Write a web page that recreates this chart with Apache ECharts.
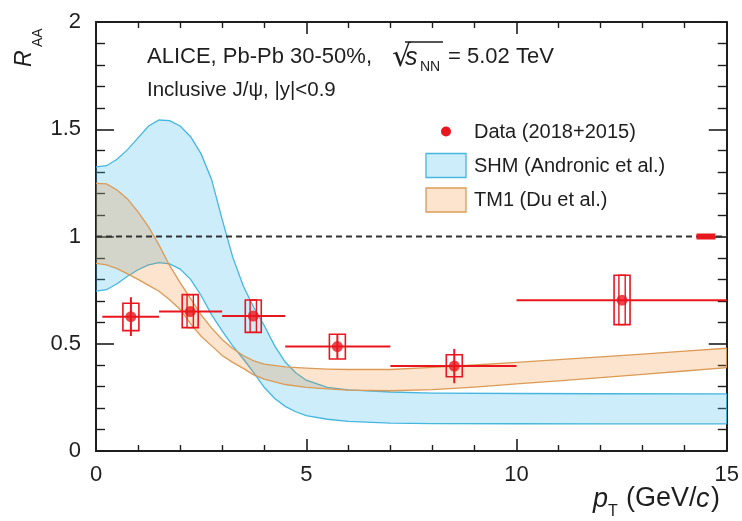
<!DOCTYPE html>
<html>
<head>
<meta charset="utf-8">
<script src="https://cdn.jsdelivr.net/npm/echarts@6/dist/echarts.min.js"></script>
<style>
  html, body { margin: 0; padding: 0; background: #fff; }
  #chart { width: 742px; height: 521px; }
</style>
</head>
<body>
<div id="chart"></div>
<script>
// Inclusive J/psi nuclear modification factor vs pT, Pb-Pb 30-50%, 5.02 TeV

// Measured points
const ptCenter = [0.83, 2.24, 3.74, 5.74, 8.52, 12.51];
const raa      = [0.626, 0.650, 0.629, 0.487, 0.396, 0.703];
const binLo    = [0.15, 1.5, 3.0, 4.5, 7.0, 10.0];
const binHi    = [1.5, 3.0, 4.5, 7.0, 10.0, 15.0];
const statLo   = [0.536, null, null, 0.430, 0.316, null];
const statHi   = [0.717, null, null, 0.545, 0.476, null];
const sysLo    = [0.561, 0.575, 0.553, 0.429, 0.346, 0.589];
const sysHi    = [0.689, 0.729, 0.704, 0.544, 0.449, 0.819];
const corrLo   = [null, 0.575, 0.553, null, null, 0.589];
const corrHi   = [null, 0.729, 0.704, null, null, 0.819];

// Global normalisation uncertainty drawn at unity
const globalPt  = [14.28, 14.73];
const globalRaa = [0.986, 1.014];

// SHM (Andronic et al.) band
const shmPt   = [0, 0.25, 0.5, 0.75, 1.0, 1.25, 1.5, 1.75, 2.0, 2.25, 2.5, 2.75, 3.0, 3.25, 3.5, 3.75, 4.0, 4.25, 4.5, 4.75, 5.0, 5.5, 6.0, 7.0, 8.0, 10.0, 12.0, 15.0];
const shmHigh = [1.325, 1.33, 1.36, 1.405, 1.46, 1.515, 1.543, 1.54, 1.515, 1.465, 1.385, 1.265, 1.08, 0.905, 0.77, 0.67, 0.585, 0.49, 0.415, 0.365, 0.33, 0.297, 0.285, 0.275, 0.27, 0.268, 0.267, 0.266];
const shmLow  = [0.745, 0.752, 0.78, 0.815, 0.845, 0.868, 0.878, 0.872, 0.848, 0.80, 0.725, 0.635, 0.56, 0.49, 0.43, 0.365, 0.297, 0.245, 0.208, 0.183, 0.165, 0.148, 0.138, 0.13, 0.128, 0.127, 0.126, 0.126];

// TM1 (Du et al.) band
const tm1Pt   = [0, 0.25, 0.5, 0.75, 1.0, 1.25, 1.5, 1.75, 2.0, 2.25, 2.5, 2.75, 3.0, 3.25, 3.5, 3.75, 4.0, 4.5, 5.0, 5.5, 6.0, 7.0, 8.0, 9.0, 10.0, 11.0, 12.0, 13.0, 14.0, 15.0];
const tm1High = [1.248, 1.245, 1.217, 1.175, 1.115, 1.045, 0.96, 0.865, 0.785, 0.71, 0.635, 0.573, 0.52, 0.478, 0.445, 0.42, 0.405, 0.392, 0.386, 0.382, 0.38, 0.38, 0.39, 0.401, 0.413, 0.426, 0.439, 0.452, 0.466, 0.479];
const tm1Low  = [0.875, 0.868, 0.85, 0.826, 0.80, 0.772, 0.745, 0.705, 0.66, 0.593, 0.535, 0.49, 0.445, 0.413, 0.385, 0.355, 0.335, 0.31, 0.297, 0.29, 0.284, 0.281, 0.286, 0.298, 0.313, 0.327, 0.342, 0.357, 0.373, 0.389];

// Axis ranges and ticks
const xRange = [0, 15], xStep = 5;
const yRange = [0, 2],  yStep = 0.5;
const unity = 1;

const FONT = '"Liberation Sans", Arial, Helvetica, sans-serif';
const RED = '#e8161e';
const INK = '#1e1e1e';

const chart = echarts.init(document.getElementById('chart'), null, { renderer: 'canvas' });

function band(xs, lo, hi, fill, stroke, z) {
  return {
    type: 'custom',
    coordinateSystem: 'cartesian2d',
    silent: true,
    z: z,
    clip: true,
    data: [[xs[0], lo[0]]],
    renderItem: function (params, api) {
      const up = xs.map((x, i) => api.coord([x, hi[i]]));
      const dn = xs.map((x, i) => api.coord([x, lo[i]]));
      const last = xs.length - 1;
      return {
        type: 'group',
        children: [
          { type: 'polygon', shape: { points: up.concat(dn.slice().reverse()) }, style: { fill: fill, stroke: null } },
          { type: 'polyline', shape: { points: up }, style: { fill: null, stroke: stroke, lineWidth: 1.3 } },
          { type: 'polyline', shape: { points: dn }, style: { fill: null, stroke: stroke, lineWidth: 1.3 } },
          { type: 'line', shape: { x1: up[last][0], y1: up[last][1], x2: dn[last][0], y2: dn[last][1] }, style: { stroke: stroke, lineWidth: 1.3 } }
        ]
      };
    }
  };
}

const boxHalf = 0.19;    // half-width of systematic boxes in pT units
const innerHalf = 0.075;

const pointSeries = {
  type: 'custom',
  coordinateSystem: 'cartesian2d',
  silent: true,
  z: 10,
  data: ptCenter.map((x, i) => [x, raa[i]]),
  renderItem: function (params, api) {
    const i = params.dataIndex;
    const x = ptCenter[i], y = raa[i];
    const kids = [];
    const a = api.coord([binLo[i], y]), b = api.coord([binHi[i], y]);
    kids.push({ type: 'line', shape: { x1: a[0], y1: a[1], x2: b[0], y2: b[1] }, style: { stroke: RED, lineWidth: 2 } });
    if (statLo[i] != null) {
      const s1 = api.coord([x, statLo[i]]), s2 = api.coord([x, statHi[i]]);
      kids.push({ type: 'line', shape: { x1: s1[0], y1: s1[1], x2: s2[0], y2: s2[1] }, style: { stroke: RED, lineWidth: 2 } });
    }
    const p1 = api.coord([x - boxHalf, sysHi[i]]), p2 = api.coord([x + boxHalf, sysLo[i]]);
    kids.push({ type: 'rect', shape: { x: p1[0], y: p1[1], width: p2[0] - p1[0], height: p2[1] - p1[1] }, style: { fill: null, stroke: RED, lineWidth: 1.6 } });
    if (corrLo[i] != null) {
      const q1 = api.coord([x - innerHalf, corrHi[i]]), q2 = api.coord([x + innerHalf, corrLo[i]]);
      kids.push({ type: 'rect', shape: { x: q1[0], y: q1[1], width: q2[0] - q1[0], height: q2[1] - q1[1] }, style: { fill: null, stroke: RED, lineWidth: 1.4 } });
    }
    return { type: 'group', children: kids };
  }
};

const globalSeries = {
  type: 'custom',
  coordinateSystem: 'cartesian2d',
  silent: true,
  z: 9,
  data: [[globalPt[0], globalRaa[0]]],
  renderItem: function (params, api) {
    const p1 = api.coord([globalPt[0], globalRaa[1]]), p2 = api.coord([globalPt[1], globalRaa[0]]);
    return { type: 'rect', shape: { x: p1[0], y: p1[1], width: p2[0] - p1[0], height: p2[1] - p1[1] }, style: { fill: RED } };
  }
};

const axisCommon = {
  type: 'value',
  axisLine: { show: true, onZero: false, lineStyle: { color: INK, width: 2 } },
  splitLine: { show: false },
  minorSplitLine: { show: false }
};

function txt(x, y, text, size, opts) {
  opts = opts || {};
  return {
    type: 'text', x: x, y: y, z: 50, silent: true,
    rotation: opts.rotation || 0,
    style: {
      text: text,
      fill: opts.fill || INK,
      font: (opts.italic ? 'italic ' : '') + size + 'px ' + (opts.family || FONT),
      textAlign: opts.align || 'left',
      textVerticalAlign: 'middle',
      align: opts.align || 'left',
      verticalAlign: 'middle'
    }
  };
}

const option = {
  animation: false,
  backgroundColor: '#fff',
  grid: { left: 96, right: 15, top: 22, bottom: 70 },
  xAxis: [
    Object.assign({}, axisCommon, {
      min: xRange[0], max: xRange[1], interval: xStep, position: 'bottom',
      axisTick: { show: true, inside: true, length: 12, lineStyle: { color: INK, width: 1.6 } },
      minorTick: { show: true, splitNumber: 5, length: 6, lineStyle: { color: INK, width: 1.4 } },
      axisLabel: { show: true, margin: 13, fontSize: 22, color: INK, fontFamily: FONT }
    }),
    Object.assign({}, axisCommon, {
      min: xRange[0], max: xRange[1], interval: xStep, position: 'top',
      axisTick: { show: true, inside: true, length: 12, lineStyle: { color: INK, width: 1.6 } },
      minorTick: { show: true, splitNumber: 5, length: 6, lineStyle: { color: INK, width: 1.4 } },
      axisLabel: { show: false }
    })
  ],
  yAxis: [
    Object.assign({}, axisCommon, {
      min: yRange[0], max: yRange[1], interval: yStep, position: 'left',
      axisTick: { show: true, inside: true, length: 18, lineStyle: { color: INK, width: 1.6 } },
      minorTick: { show: true, splitNumber: 5, length: 9, lineStyle: { color: INK, width: 1.4 } },
      axisLabel: { show: true, margin: 15, fontSize: 22, color: INK, fontFamily: FONT }
    }),
    Object.assign({}, axisCommon, {
      min: yRange[0], max: yRange[1], interval: yStep, position: 'right',
      axisTick: { show: true, inside: true, length: 18, lineStyle: { color: INK, width: 1.6 } },
      minorTick: { show: true, splitNumber: 5, length: 9, lineStyle: { color: INK, width: 1.4 } },
      axisLabel: { show: false }
    })
  ],
  series: [
    band(shmPt, shmLow, shmHigh, 'rgba(72,190,235,0.27)', '#45b6e2', 2),
    band(tm1Pt, tm1Low, tm1High, 'rgba(240,120,10,0.2)', '#dc9a55', 3),
    {
      type: 'line',
      silent: true,
      z: 5,
      symbol: 'none',
      data: [[xRange[0], unity], [xRange[1], unity]],
      lineStyle: { color: '#333', width: 1.8, type: [6, 4] }
    },
    globalSeries,
    pointSeries,
    {
      type: 'scatter',
      silent: true,
      z: 11,
      symbol: 'circle',
      symbolSize: 11,
      itemStyle: { color: RED },
      data: ptCenter.map((x, i) => [x, raa[i]])
    }
  ],
  graphic: [
    // header
    txt(147, 57, 'ALICE, Pb-Pb 30-50%,', 22),
    txt(392, 58, '\u221A', 30, { family: '"DejaVu Sans", sans-serif' }),
    { type: 'line', silent: true, z: 50, shape: { x1: 405, y1: 42, x2: 443, y2: 42 }, style: { stroke: INK, lineWidth: 1.4 } },
    txt(405, 58, 's', 25, { italic: true }),
    txt(420, 67, 'NN', 14),
    txt(448, 57, '= 5.02 TeV', 22),
    txt(147, 90, 'Inclusive J/\u03C8, |y|<0.9', 20.5),
    // legend
    { type: 'circle', silent: true, z: 50, shape: { cx: 446, cy: 131.5, r: 5 }, style: { fill: RED } },
    txt(474, 132, 'Data (2018+2015)', 20),
    { type: 'rect', silent: true, z: 50, shape: { x: 426, y: 153.5, width: 40, height: 24 }, style: { fill: 'rgba(72,190,235,0.27)', stroke: '#45b6e2', lineWidth: 1.3 } },
    txt(474, 166, 'SHM (Andronic et al.)', 20),
    { type: 'rect', silent: true, z: 50, shape: { x: 426, y: 188, width: 40, height: 24 }, style: { fill: 'rgba(240,120,10,0.2)', stroke: '#dc9a55', lineWidth: 1.3 } },
    txt(474, 200, 'TM1 (Du et al.)', 20),
    // y axis title
    {
      type: 'group', x: 33, y: 67, rotation: Math.PI / 2, silent: true, z: 50,
      children: [
        txt(0, -8, 'R', 23, { italic: true }),
        txt(20, 5, 'AA', 14)
      ]
    },
    // x axis title
    txt(593, 499, 'p', 27, { italic: true }),
    txt(608, 512, 'T', 16),
    txt(626, 499, '(GeV/', 27),
    txt(696, 499, 'c', 27, { italic: true }),
    txt(711, 499, ')', 27)
  ]
};

chart.setOption(option);
</script>
</body>
</html>
